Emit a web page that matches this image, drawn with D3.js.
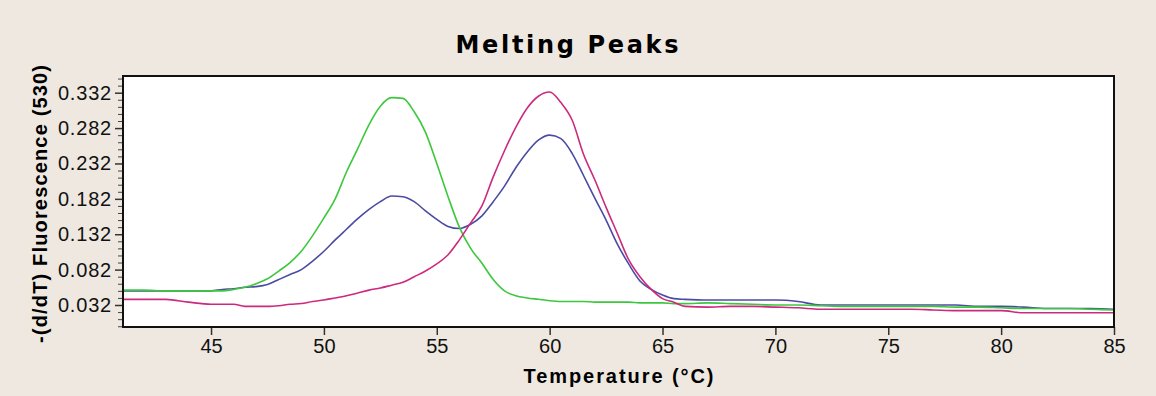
<!DOCTYPE html>
<html>
<head>
<meta charset="utf-8">
<script src="https://cdn.jsdelivr.net/npm/d3@7"></script>
<style>
  html, body { margin: 0; padding: 0; background: #eee8e0; }
  svg { display: block; }
</style>
</head>
<body>
<svg id="chart"></svg>
<script>
const w = 1156;
const h = 396;

const temps = [41.1, 42, 43, 44, 45, 45.5, 46, 46.5, 47, 47.5, 48, 48.5, 49, 49.5, 50, 50.5, 51, 51.5, 52, 52.5,
  53, 53.5, 54, 54.5, 55, 55.5, 56, 56.5, 57, 57.5, 58, 58.5, 59, 59.5, 60, 60.5, 61, 61.5, 62, 62.5,
  63, 63.5, 64, 64.5, 65, 65.5, 66, 67, 68, 69, 70, 71, 72, 73, 74, 75, 76, 77, 78, 79,
  80, 81, 82, 83, 84, 85];

const greenValues = [0.053, 0.053, 0.052, 0.052, 0.052, 0.052, 0.054, 0.057, 0.062, 0.069, 0.080, 0.092, 0.108, 0.130, 0.155, 0.182, 0.220, 0.253, 0.287, 0.313,
  0.325, 0.324, 0.305, 0.276, 0.232, 0.185, 0.142, 0.112, 0.091, 0.068, 0.052, 0.045, 0.042, 0.040, 0.038, 0.037, 0.037, 0.037, 0.036, 0.036,
  0.036, 0.036, 0.035, 0.035, 0.035, 0.034, 0.034, 0.035, 0.034, 0.033, 0.032, 0.032, 0.031, 0.030, 0.030, 0.030, 0.030, 0.030, 0.029, 0.029,
  0.028, 0.027, 0.027, 0.027, 0.026, 0.025];

const blueValues = [0.052, 0.052, 0.052, 0.052, 0.052, 0.054, 0.055, 0.057, 0.058, 0.061, 0.068, 0.075, 0.082, 0.094, 0.108, 0.124, 0.139, 0.154, 0.167, 0.178,
  0.186, 0.185, 0.178, 0.165, 0.153, 0.143, 0.140, 0.146, 0.158, 0.178, 0.200, 0.226, 0.248, 0.265, 0.272, 0.267, 0.246, 0.215, 0.183, 0.152,
  0.118, 0.090, 0.066, 0.054, 0.046, 0.041, 0.040, 0.039, 0.039, 0.039, 0.039, 0.037, 0.032, 0.032, 0.032, 0.032, 0.032, 0.032, 0.032, 0.030,
  0.030, 0.029, 0.027, 0.027, 0.027, 0.026];

const pinkValues = [0.040, 0.040, 0.040, 0.036, 0.033, 0.033, 0.033, 0.030, 0.030, 0.030, 0.031, 0.033, 0.034, 0.037, 0.039, 0.042, 0.045, 0.049, 0.053, 0.056,
  0.060, 0.064, 0.072, 0.080, 0.090, 0.103, 0.124, 0.148, 0.172, 0.213, 0.250, 0.283, 0.310, 0.327, 0.333, 0.318, 0.293, 0.245, 0.209, 0.170,
  0.133, 0.096, 0.072, 0.054, 0.041, 0.036, 0.030, 0.029, 0.030, 0.030, 0.029, 0.028, 0.026, 0.026, 0.026, 0.026, 0.026, 0.025, 0.024, 0.024,
  0.024, 0.021, 0.021, 0.021, 0.021, 0.021];

const xTicks = [45, 50, 55, 60, 65, 70, 75, 80, 85];
const yTicks = [0.032, 0.082, 0.132, 0.182, 0.232, 0.282, 0.332];
const yMinorTicks = [0.002, 0.012, 0.022, 0.042, 0.052, 0.062, 0.072, 0.092, 0.102, 0.112, 0.122, 0.142, 0.152, 0.162, 0.172,
  0.192, 0.202, 0.212, 0.222, 0.242, 0.252, 0.262, 0.272, 0.292, 0.302, 0.312, 0.322, 0.342, 0.352];

const series = [
  { name: "blue", values: blueValues, color: "#4b4ba3" },
  { name: "green", values: greenValues, color: "#3cc83c" },
  { name: "pink", values: pinkValues, color: "#cc2a7e" }
];

const margin = { top: 76, right: 42, bottom: 69, left: 123 };

const svg = d3.select("#chart")
  .attr("width", w)
  .attr("height", h)
  .attr("viewBox", [0, 0, w, h]);

svg.append("rect")
  .attr("width", w)
  .attr("height", h)
  .attr("fill", "#eee8e0");

const x = d3.scaleLinear()
  .domain([41.1, 85])
  .range([margin.left, w - margin.right]);

const y = d3.scaleLinear()
  .domain([0.0009, 0.3556])
  .range([h - margin.bottom, margin.top]);

// white plot area
svg.append("rect")
  .attr("x", margin.left)
  .attr("y", margin.top)
  .attr("width", w - margin.left - margin.right)
  .attr("height", h - margin.top - margin.bottom)
  .attr("fill", "#fff");

// x axis
const xAxis = svg.append("g")
  .attr("transform", `translate(0,${h - margin.bottom})`)
  .call(d3.axisBottom(x).tickValues(xTicks).tickSize(8).tickPadding(4).tickFormat(d3.format("d")));

xAxis.select(".domain").remove();
xAxis.selectAll("line").attr("stroke", "#333").attr("stroke-width", 1.5);
xAxis.selectAll("text")
  .attr("font-family", "'Liberation Sans', Arial, sans-serif")
  .attr("font-size", 20)
  .attr("fill", "#111");

// y axis: minor ticks then major ticks
const yMinor = svg.append("g")
  .attr("transform", `translate(${margin.left},0)`)
  .call(d3.axisLeft(y).tickValues(yMinorTicks).tickSize(5).tickFormat(""));
yMinor.select(".domain").remove();
yMinor.selectAll("line").attr("stroke", "#444").attr("stroke-width", 1);

const yAxis = svg.append("g")
  .attr("transform", `translate(${margin.left},0)`)
  .call(d3.axisLeft(y).tickValues(yTicks).tickSize(8).tickPadding(3).tickFormat(d3.format(".3f")));
yAxis.select(".domain").remove();
yAxis.selectAll("line").attr("stroke", "#333").attr("stroke-width", 1.5);
yAxis.selectAll("text")
  .attr("font-family", "'Liberation Sans', Arial, sans-serif")
  .attr("font-size", 20)
  .attr("letter-spacing", 0.8)
  .attr("fill", "#111");

// curves
const line = d3.line()
  .x((d, i) => x(temps[i]))
  .y(d => y(d))
  .curve(d3.curveMonotoneX);

svg.append("g")
  .selectAll("path")
  .data(series)
  .enter()
  .append("path")
  .attr("d", d => line(d.values))
  .attr("fill", "none")
  .attr("stroke", d => d.color)
  .attr("stroke-width", 1.6)
  .attr("stroke-linejoin", "round");

// frame
svg.append("rect")
  .attr("x", margin.left)
  .attr("y", margin.top)
  .attr("width", w - margin.left - margin.right)
  .attr("height", h - margin.top - margin.bottom)
  .attr("fill", "none")
  .attr("stroke", "#111")
  .attr("stroke-width", 2);

// title and axis labels
svg.append("text")
  .text("Melting Peaks")
  .attr("x", 567)
  .attr("y", 53)
  .attr("text-anchor", "middle")
  .attr("font-family", "'DejaVu Sans', sans-serif")
  .attr("font-weight", "bold")
  .attr("font-size", 24)
  .attr("textLength", 223)
  .attr("lengthAdjust", "spacing")
  .attr("fill", "#000");

svg.append("text")
  .text("Temperature (°C)")
  .attr("x", (margin.left + w - margin.right) / 2)
  .attr("y", 383)
  .attr("text-anchor", "middle")
  .attr("font-family", "'Liberation Sans', Arial, sans-serif")
  .attr("font-weight", "bold")
  .attr("font-size", 20)
  .attr("textLength", 190)
  .attr("lengthAdjust", "spacing")
  .attr("fill", "#000");

svg.append("text")
  .text("-(d/dT) Fluorescence (530)")
  .attr("transform", "translate(47,204) rotate(-90)")
  .attr("text-anchor", "middle")
  .attr("font-family", "'Liberation Sans', Arial, sans-serif")
  .attr("font-weight", "bold")
  .attr("font-size", 20)
  .attr("textLength", 278)
  .attr("lengthAdjust", "spacing")
  .attr("fill", "#000");
</script>
</body>
</html>
